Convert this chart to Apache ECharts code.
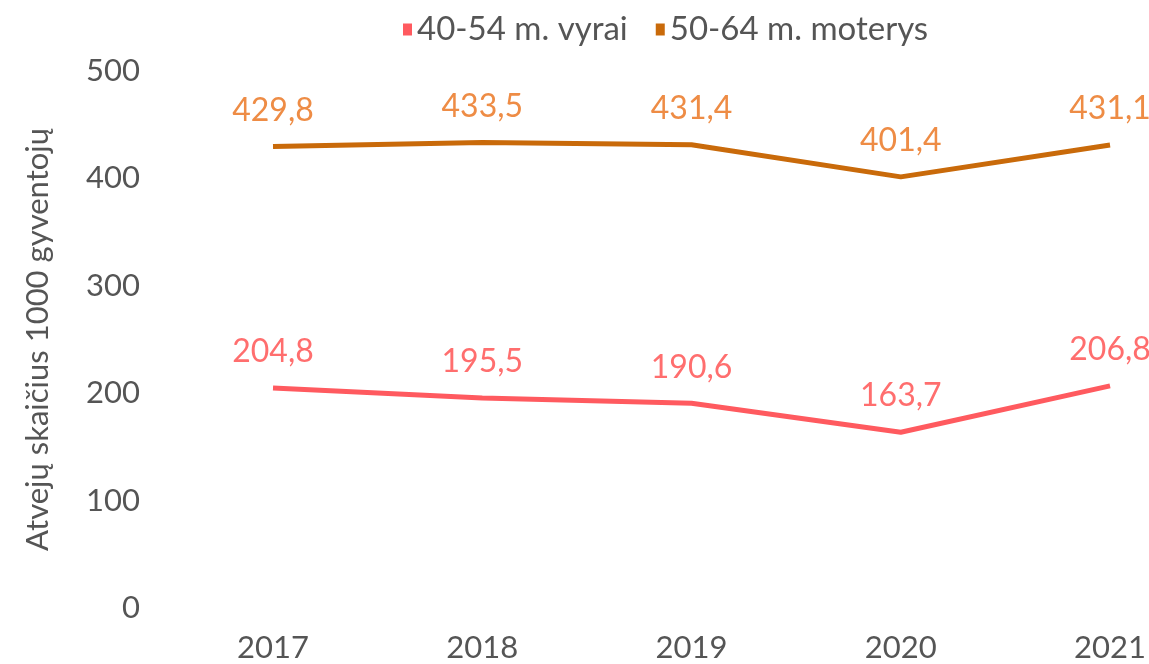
<!DOCTYPE html>
<html>
<head>
<meta charset="utf-8">
<script src="https://cdn.jsdelivr.net/npm/echarts@6/dist/echarts.min.js"></script>
<style>
  html, body { margin: 0; padding: 0; background: #fff; }
  #chart { width: 1149px; height: 664px; }
</style>
</head>
<body>
<div id="chart"></div>
<script>
var years = ['2017', '2018', '2019', '2020', '2021'];
var vyrai = [204.8, 195.5, 190.6, 163.7, 206.8];
var moterys = [429.8, 433.5, 431.4, 401.4, 431.1];

var chart = echarts.init(document.getElementById('chart'));

function fmt(p) {
  return String(p.value.toFixed(1)).replace('.', ',');
}

var option = {
  textStyle: { fontFamily: 'Lato' },
  legend: {
    top: 8,
    left: 398,
    icon: 'rect',
    itemWidth: 9,
    itemHeight: 12,
    itemGap: 28,
    textStyle: { fontSize: 33, color: '#555', fontFamily: 'Lato' },
    data: ['40-54 m. vyrai', '50-64 m. moterys']
  },
  grid: { left: 273, right: 36, top: 71, bottom: 56 },
  xAxis: {
    type: 'category',
    data: years,
    boundaryGap: false,
    axisLine: { show: false },
    axisTick: { show: false },
    axisLabel: { fontSize: 31, color: '#555', margin: 24 }
  },
  yAxis: {
    type: 'value',
    min: 0,
    max: 500,
    interval: 100,
    name: 'Atvejų skaičius 1000 gyventojų',
    nameLocation: 'middle',
    nameGap: 220,
    nameTextStyle: { fontSize: 31, color: '#555' },
    splitLine: { show: false },
    axisLine: { show: false },
    axisTick: { show: false },
    axisLabel: { fontSize: 31, color: '#555', margin: 133 }
  },
  series: [
    {
      name: '40-54 m. vyrai',
      type: 'line',
      data: vyrai,
      symbol: 'circle',
      symbolSize: 0.1,
      showSymbol: true,
      color: '#FF5A5F',
      lineStyle: { width: 5, color: '#FF5A5F' },
      label: { show: true, position: 'top', distance: 20, fontSize: 32, color: '#FF6E6E', formatter: fmt }
    },
    {
      name: '50-64 m. moterys',
      type: 'line',
      data: moterys,
      symbol: 'circle',
      symbolSize: 0.1,
      showSymbol: true,
      color: '#C96A0A',
      lineStyle: { width: 5, color: '#C96A0A' },
      label: { show: true, position: 'top', distance: 20, fontSize: 32, color: '#EE8C45', formatter: fmt }
    }
  ]
};

chart.setOption(option);
</script>
</body>
</html>
